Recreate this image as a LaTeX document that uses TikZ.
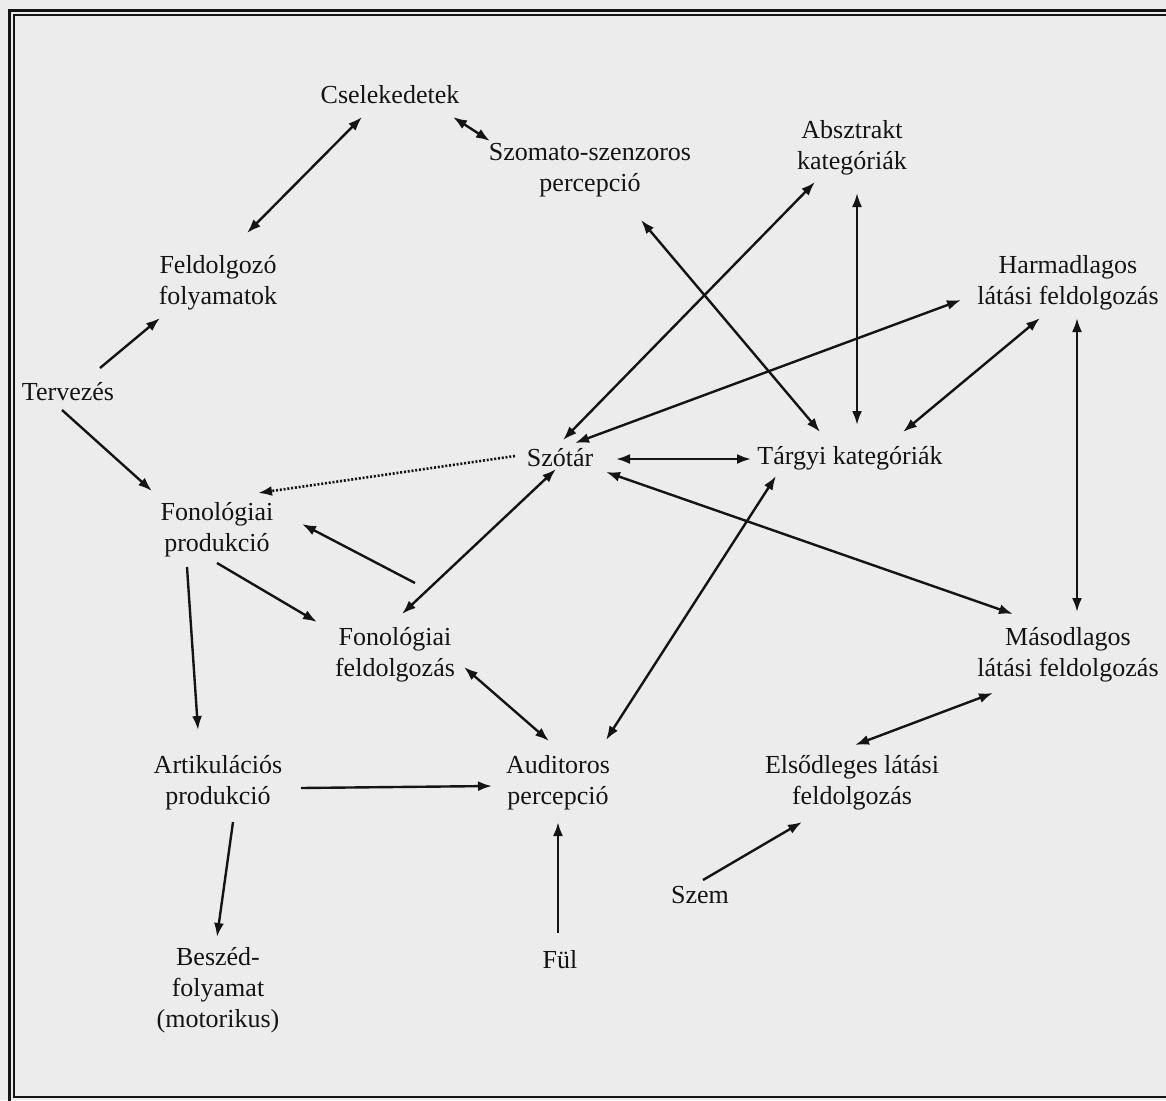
\documentclass[tikz,border=0pt]{standalone}
\usepackage{fontspec}
\setmainfont{Liberation Serif}
\usetikzlibrary{arrows.meta,calc}
\definecolor{paper}{RGB}{236,236,236}
\definecolor{ink}{RGB}{20,20,20}
\tikzset{
  lbl/.style={align=center, inner sep=0pt, text=ink,
    font=\fontsize{26}{31}\selectfont},
  tip/.style={},
  conn/.style={line width=2.4pt, draw=ink,
    -{Latex[length=14pt,width=10pt]}},
  biconn/.style={line width=2.4pt, draw=ink,
    {Latex[length=14pt,width=10pt]}-{Latex[length=14pt,width=10pt]}},
  dotconn/.style={line width=2.6pt, draw=ink, dash pattern=on 2pt off 1.8pt,
    -{Latex[length=14pt,width=10pt]}},
}
\begin{document}
\begin{tikzpicture}[x=1pt,y=-1pt]
  % page and double frame
  \fill[paper] (0,0) rectangle (1166,1100);
  \useasboundingbox (0,0) rectangle (1166,1100);
  \begin{scope}
    \clip (0,0) rectangle (1166,1100);
    \draw[line width=3pt, ink] (9.5,10.5) rectangle (1185,1103);
    \draw[line width=1.2pt, ink] (14,15) rectangle (1180,1097);
  \end{scope}

  % nodes
  \node[lbl] (csel)  at (390,95)  {Cselekedetek};
  \node[lbl] (szom)  at (590,170) {Szomato-szenzoros\\percepció};
  \node[lbl] (absz)  at (852,148) {Absztrakt\\kategóriák};
  \node[lbl] (feld)  at (218,283) {Feldolgozó\\folyamatok};
  \node[lbl] (harm)  at (1068,283) {Harmadlagos\\látási feldolgozás};
  \node[lbl] (terv)  at (68,392)  {Tervezés};
  \node[lbl] (szot)  at (560,458) {Szótár};
  \node[lbl] (targy) at (850,458) {Tárgyi kategóriák};
  \node[lbl] (fprod) at (217,530) {Fonológiai\\produkció};
  \node[lbl] (ffeld) at (395,655) {Fonológiai\\feldolgozás};
  \node[lbl] (mas)   at (1068,655) {Másodlagos\\látási feldolgozás};
  \node[lbl] (artik) at (218,783) {Artikulációs\\produkció};
  \node[lbl] (aud)   at (558,783) {Auditoros\\percepció};
  \node[lbl] (elso)  at (852,783) {Elsődleges látási\\feldolgozás};
  \node[lbl] (szem)  at (700,895) {Szem};
  \node[lbl] (ful)   at (560,960) {Fül};
  \node[lbl] (besz)  at (218,990) {Beszéd-\\folyamat\\(motorikus)};

  % connectors
  \draw[biconn] ($(feld)+(29,-50)$) -- ($(csel)+(-28,22)$);
  \draw[biconn] ($(csel)+(63,22)$) -- ($(szom)+(-100,-29)$);
  \draw[conn] ($(terv)+(32,-24)$) -- ($(feld)+(-58,35)$);
  \draw[conn] ($(terv)+(-6,18)$) -- ($(fprod)+(-65,-39)$);
  \draw[dotconn] ($(szot)+(-45,-2)$) -- ($(fprod)+(41,-37)$);
  \draw[conn] ($(ffeld)+(20,-72)$) -- ($(fprod)+(85,-6)$);
  \draw[conn] ($(fprod)+(0,33)$) -- ($(ffeld)+(-78,-33)$);
  \draw[biconn] ($(szot)+(-4,11)$) -- ($(ffeld)+(7,-41)$);
  \draw[conn] ($(fprod)+(-30,37)$) -- ($(artik)+(-20,-53)$);
  \draw[conn] ($(artik)+(83,5)$) -- ($(aud)+(-66,3)$);
  \draw[conn] ($(artik)+(15,39)$) -- ($(besz)+(-1,-53)$);
  \draw[conn] ($(ful)+(-2,-27)$) -- ($(aud)+(0,39)$);
  \draw[biconn] ($(ffeld)+(69,12)$) -- ($(aud)+(-9,-42)$);
  \draw[biconn] ($(targy)+(-74,18)$) -- ($(aud)+(48,-43)$);
  \draw[biconn] ($(szot)+(56,1)$) -- ($(targy)+(-99,1)$);
  \draw[biconn] ($(szot)+(46,14)$) -- ($(mas)+(-55,-41)$);
  \draw[biconn] ($(szot)+(3,-18)$) -- ($(absz)+(-37,34)$);
  \draw[biconn] ($(szot)+(15,-15)$) -- ($(harm)+(-107,17)$);
  \draw[biconn] ($(szom)+(51,50)$) -- ($(targy)+(-30,-26)$);
  \draw[biconn] ($(absz)+(5,45)$) -- ($(targy)+(7,-33)$);
  \draw[biconn] ($(targy)+(53,-26)$) -- ($(harm)+(-28,35)$);
  \draw[biconn] ($(harm)+(9,35)$) -- ($(mas)+(9,-43)$);
  \draw[biconn] ($(mas)+(-75,38)$) -- ($(elso)+(3,-38)$);
  \draw[conn] ($(szem)+(3,-15)$) -- ($(elso)+(-50,39)$);
\end{tikzpicture}
\end{document}
